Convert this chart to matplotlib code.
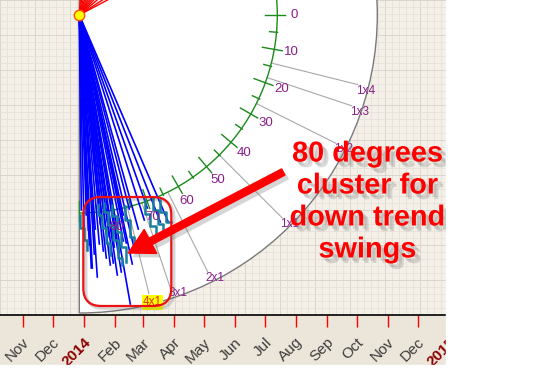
import numpy as np
import pandas as pd
import matplotlib
matplotlib.use("Agg")
import matplotlib.pyplot as plt
import matplotlib.patches as mpatches
import matplotlib.patheffects as pe
from matplotlib.transforms import ScaledTranslation

plt.rcParams['font.family'] = ['Liberation Sans', 'DejaVu Sans']

# time axis, in days counted from 2014-01-01
origin = pd.Timestamp('2014-01-01')
month_starts = pd.date_range('2013-11-01', '2014-12-01', freq='MS')
month_labels = ['Nov', 'Dec', '2014', 'Feb', 'Mar', 'Apr', 'May', 'Jun',
                'Jul', 'Aug', 'Sep', 'Oct', 'Nov', 'Dec']
edge_labels = [('Oct', '2013-10-01'), ('2015', '2015-01-01')]
month_days = np.array([(d - origin).days for d in month_starts])

# pivot the fan starts from
pivot_day = (pd.Timestamp('2013-12-27') - origin).days
pivot_price = 0

# gann fan
fan_labels = ['1x4', '1x3', '1x2', '1x1', '2x1', '3x1', '4x1']
fan_ratios = [1 / 4, 1 / 3, 1 / 2, 1, 2, 3, 4]

# degree scale
deg_labels = np.arange(0, 81, 10)
deg_ticks = np.arange(-10, 91, 5)

# up trend swings (angle above horizontal, degrees)
up_angles = [28, 33, 40, 46, 51, 56, 61, 66, 71, 76, 81, 86]

# down trend swings: days after pivot, drop from pivot
down_dx = [89, 81, 65, 59, 55, 53, 44, 51, 42, 35, 34, 27, 27, 21, 20, 16, 15, 12, 13, 7, 5, 2,
           44, 50, 68, 10, 18, 24, 30, 38, 31, 23, 9, 40, 47]
down_dy = [207, 207, 205, 214, 234, 249, 226, 289, 257, 232, 248, 218, 243, 209, 229, 214, 239, 253, 253, 200, 225, 195,
           200, 194, 193, 230, 262, 236, 222, 260, 250, 205, 215, 238, 228]

# stepped price paths near the swing lows (days after pivot, drop from pivot)
step_dx = [
    [1, 1, 5, 5, 8, 8],
    [19, 19, 23, 23, 27, 27, 31, 31],
    [25, 25, 29, 29, 34, 34, 39, 39, 43, 43],
    [33, 33, 38, 38, 42, 42, 47, 47],
    [46, 46, 51, 51, 55, 55],
    [66, 66, 71, 71, 77, 77],
    [74, 74, 79, 79, 84, 84, 89],
    [81, 81, 87, 87, 92],
]
step_dy = [
    [200, 213, 213, 225, 225, 235],
    [190, 200, 200, 213, 213, 228, 228, 240],
    [188, 197, 197, 210, 210, 225, 225, 243, 243, 250],
    [190, 201, 201, 217, 217, 232, 232, 247],
    [191, 205, 205, 222, 222, 233],
    [185, 199, 199, 211, 211, 219],
    [183, 195, 195, 209, 209, 217, 217],
    [185, 197, 197, 207, 207],
]

R_OUT, R_IN, R_DEG, R_LAB = 298, 198, 215, 287

fig = plt.figure(figsize=(5.44, 3.9), dpi=100)
fig.patch.set_facecolor('white')
fig.add_artist(mpatches.Rectangle((0, 25 / 390), 446 / 544, 50 / 390, transform=fig.transFigure,
                                  color='#ece6da', zorder=-1))
ax = fig.add_axes([0, 75 / 390, 446 / 544, 315 / 390])
ax.set_facecolor('#f4f0e8')
ax.set_xlim(-84.3, 361.7)
ax.set_ylim(-300, 15)

# graph paper
for i, gx in enumerate(np.arange(-84, 362, 7)):
    ax.axvline(gx, color='#d6d0c9' if i % 5 == 0 else '#e6e1da', lw=0.6, zorder=0.5)
for i, gy in enumerate(np.arange(15, -301, -7)):
    ax.axhline(gy, color='#d6d0c9' if i % 5 == 0 else '#e6e1da', lw=0.6, zorder=0.5)

px, py = pivot_day, pivot_price

def polar(r, ang):
    a = np.radians(ang)
    return px + r * np.cos(a), py - r * np.sin(a)

ax.add_patch(mpatches.Wedge((px, py), R_OUT, -90, 90, facecolor='white', edgecolor='#7a7a7a', lw=1, zorder=1))

# fan lines
for lab, ratio in zip(fan_labels, fan_ratios):
    ang = np.degrees(np.arctan(ratio))
    x0, y0 = polar(R_IN, ang)
    x1, y1 = polar(R_LAB, ang)
    ax.plot([x0, x1], [y0, y1], color='#a8a8a8', lw=0.8, zorder=2)
    if lab == '4x1':
        ax.text(x1 - 6, y1 - 3, lab, color='#e83000', fontsize=8.5, ha='left', va='top', zorder=6,
                bbox=dict(boxstyle='square,pad=0.1', fc='#ffff00', ec='none'))
    else:
        ax.text(x1 - 2, y1, lab, color='#8b1c8b', fontsize=8.5, ha='left', va='top', zorder=3)

# degree arc
ax.add_patch(mpatches.Arc((px, py), 2 * R_IN, 2 * R_IN, theta1=-90, theta2=90, color='#1a8a1a', lw=1, zorder=3))
for d in deg_ticks:
    r0, r1 = (186, 206) if d % 10 == 0 else (191, 199)
    x0, y0 = polar(r0, d)
    x1, y1 = polar(r1, d)
    ax.plot([x0, x1], [y0, y1], color='#1a8a1a', lw=1, zorder=3)
for d in deg_labels:
    x, y = polar(R_DEG, d)
    ax.text(x, y, str(d), color='#8b1c8b', fontsize=9.5, ha='center', va='center', zorder=6)

# up trend swings
for a in up_angles:
    x, y = polar(120, -a)
    ax.plot([px, x], [py, y], color='red', lw=1, zorder=4)

# down trend swings
for dx, dy in zip(down_dx, down_dy):
    ax.plot([px, px + dx], [py, py - dy], color='#0000ff', lw=1.2, zorder=4)
for sx, sy in zip(step_dx, step_dy):
    ax.plot(px + np.array(sx), py - np.array(sy), color='#1a7f9c', lw=1.8, zorder=5)

ax.plot([px], [py], 'o', ms=7.5, mfc='#ffff00', mec='#ff5000', mew=1, zorder=7)

# callout box, arrow and text
for off, a in [(3, 0.12), (2, 0.15)]:
    ax.add_patch(mpatches.FancyBboxPatch((px + 4 + off, py - 291 - off), 88, 109,
                                         boxstyle='round,pad=0,rounding_size=18',
                                         fc='none', ec='#555555', lw=2.2, alpha=a, zorder=7.5))
ax.add_patch(mpatches.FancyBboxPatch((px + 4, py - 291), 88, 109, boxstyle='round,pad=0,rounding_size=18',
                                     fc='none', ec='#ee1111', lw=1.6, zorder=8))
arrow_shadow = [pe.SimplePatchShadow(offset=(3, -3), shadow_rgbFace='#777777', alpha=0.3), pe.Normal()]
ax.add_patch(mpatches.FancyArrow(px + 204, py - 157, -155, -81, width=7, head_width=27, head_length=25,
                                 length_includes_head=True, color='#ff0000', zorder=9,
                                 path_effects=arrow_shadow))
ax.text(px + 288, py - 186.5, '80 degrees\ncluster for\ndown trend\nswings', color='#ff0000',
        fontsize=20.8, fontweight='bold', ha='center', va='center', multialignment='center',
        linespacing=1.18, zorder=10,
        path_effects=[pe.SimplePatchShadow(offset=(4, -4), shadow_rgbFace='#8a8a8a', alpha=0.3),
                      pe.SimplePatchShadow(offset=(2.5, -2.5), shadow_rgbFace='#8a8a8a', alpha=0.25),
                      pe.Normal()])

# axis
for s in ['top', 'left', 'right']:
    ax.spines[s].set_visible(False)
ax.spines['bottom'].set_color('black')
ax.spines['bottom'].set_linewidth(1.2)
ax.set_yticks([])
ax.set_xticks(month_days)
ax.set_xticklabels(month_labels, rotation=45, ha='right', va='top', fontsize=11)
ax.tick_params(axis='x', direction='out', length=8.6, width=1, color='red', labelcolor='#3c3c3c', pad=6)
shift = ScaledTranslation(9 / 100, 0, fig.dpi_scale_trans)
for lab in ax.get_xticklabels():
    lab.set_transform(lab.get_transform() + shift)
    if lab.get_text().isdigit():
        lab.set_color('#8b0000')
        lab.set_fontweight('bold')
for lab, day in edge_labels:
    d = (pd.Timestamp(day) - origin).days
    bold = lab.isdigit()
    ax.annotate(lab, xy=(d, 0), xycoords=('data', 'axes fraction'), xytext=(9, -20),
                textcoords='offset pixels', rotation=45, ha='right', va='top', fontsize=11,
                color='#8b0000' if bold else '#3c3c3c', fontweight='bold' if bold else 'normal',
                annotation_clip=False)

# cover outside of the screenshot panel
fig.add_artist(mpatches.Rectangle((446 / 544, 0), 1, 1, transform=fig.transFigure, color='white', zorder=20))
fig.add_artist(mpatches.Rectangle((0, 0), 1, 25 / 390, transform=fig.transFigure, color='white', zorder=20))

fig.savefig('out.png', dpi=100)
